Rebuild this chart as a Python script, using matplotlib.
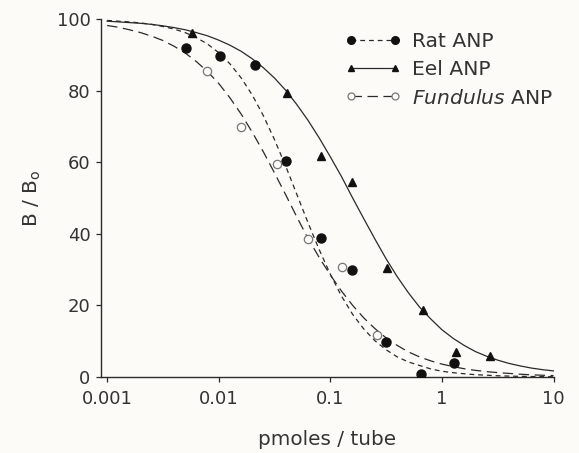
import numpy as np
import matplotlib
matplotlib.use("Agg")
import matplotlib.pyplot as plt
from matplotlib.lines import Line2D

plt.rcParams['font.family'] = ['DejaVu Sans']
plt.rcParams['mathtext.fontset'] = 'custom'
plt.rcParams['mathtext.rm'] = 'DejaVu Sans'
plt.rcParams['mathtext.it'] = 'DejaVu Sans:italic'
plt.rcParams['lines.scale_dashes'] = False

# ---- data ----
rat_x = [0.0051, 0.0103, 0.021, 0.040, 0.083, 0.157, 0.318, 0.65, 1.29]
rat_y = [92, 89.7, 87.2, 60.3, 38.7, 29.9, 9.9, 0.7, 3.9]

eel_x = [0.0058, 0.041, 0.083, 0.157, 0.325, 0.67, 1.35, 2.67]
eel_y = [96.1, 79.4, 61.7, 54.5, 30.4, 18.7, 7.1, 5.8]

fun_x = [0.0079, 0.0159, 0.033, 0.0635, 0.128, 0.264]
fun_y = [85.5, 69.9, 59.6, 38.5, 30.6, 11.8]

# fitted curves, read every 0.1 decade from 0.001 to 10
curve_x = np.logspace(-3, 1, 41)
rat_curve = [99.6, 99.4, 99.2, 98.9, 98.5, 97.9, 97.2, 96.2, 94.8, 93.0,
             90.6, 87.5, 83.6, 78.8, 73.0, 66.3, 58.9, 51.0, 43.1, 35.6,
             28.7, 22.6, 17.5, 13.4, 10.1, 7.6, 5.6, 4.2, 3.2, 2.25,
             1.6, 1.2, 0.9, 0.64, 0.5, 0.34, 0.25, 0.18, 0.13, 0.1, 0.07]
eel_curve = [99.4, 99.2, 99.0, 98.8, 98.5, 98.1, 97.6, 97.0, 96.2, 95.3,
             94.1, 92.7, 91.0, 88.9, 86.4, 83.5, 80.1, 76.1, 71.7, 66.8,
             61.5, 56.0, 50.0, 44.2, 38.5, 33.0, 28.0, 23.5, 19.5, 16.2,
             13.2, 10.8, 8.8, 7.1, 5.8, 4.7, 3.8, 3.1, 2.5, 2.05, 1.7]
fun_curve = [98.2, 97.7, 97.0, 96.2, 95.2, 94.0, 92.4, 90.5, 88.1, 85.3,
             82.0, 78.0, 73.5, 68.4, 62.9, 57.0, 50.9, 44.7, 38.7, 33.4,
             28.5, 24.0, 20.0, 16.5, 13.5, 10.9, 8.8, 7.0, 5.6, 4.5,
             3.6, 2.9, 2.3, 1.85, 1.5, 1.22, 1.0, 0.78, 0.6, 0.49, 0.4]

xticks = [0.001, 0.01, 0.1, 1, 10]
xticklabels = ["0.001", "0.01", "0.1", "1", "10"]
yticks = [0, 20, 40, 60, 80, 100]

labels = ["Rat ANP", "Eel ANP", r"$\it{Fundulus}$ ANP"]

# ---- style ----
bg = '#fdfbf8'
ink = '#2a2a2a'
txt = '#333333'
lw = 0.9
short_dash = (0, (3.5, 2.8))
long_dash = (0, (7.5, 4.0))

fig = plt.figure(figsize=(5.79, 4.53), dpi=100, facecolor=bg)
ax = fig.add_axes([0.1744, 0.1678, 0.957 - 0.1744, 0.958 - 0.1678])
ax.set_facecolor(bg)

ax.plot(curve_x, rat_curve, color=ink, lw=lw, linestyle=short_dash)
ax.plot(curve_x, eel_curve, color=ink, lw=lw, linestyle='-')
ax.plot(curve_x, fun_curve, color=ink, lw=lw, linestyle=long_dash)

ax.plot(rat_x, rat_y, 'o', color='#111111', ms=6.5, zorder=5)
ax.plot(eel_x, eel_y, '^', color='#111111', ms=5.5, zorder=5)
ax.plot(fun_x, fun_y, 'o', mfc=bg, mec='#777777', mew=0.9, ms=6.0, zorder=5)

ax.set_xscale('log')
ax.set_xlim(10 ** -3.055, 10 ** 1.005)
ax.set_ylim(0, 100)
ax.set_xticks(xticks)
ax.set_xticklabels(xticklabels)
ax.minorticks_off()
ax.set_yticks(yticks)

for s in ['top', 'right']:
    ax.spines[s].set_visible(False)
for s in ['left', 'bottom']:
    ax.spines[s].set_color(ink)
    ax.spines[s].set_linewidth(1.0)

ax.tick_params(axis='both', direction='out', length=3.5, width=0.9,
               color=ink, labelcolor=txt, labelsize=13)
ax.tick_params(axis='x', pad=6)
ax.tick_params(axis='y', pad=4)

ax.set_xlabel("pmoles / tube", fontsize=14.4, color=txt, labelpad=16)
ax.set_ylabel(r"B / B$_{\mathrm{o}}$", fontsize=14.5, color=txt, labelpad=10)

handles = [
    Line2D([], [], color=ink, lw=lw, linestyle=short_dash, marker='o',
           ms=5.5, mfc='#111111', mec='#111111'),
    Line2D([], [], color=ink, lw=lw, linestyle='-', marker='^',
           ms=4.5, mfc='#111111', mec='#111111'),
    Line2D([], [], color=ink, lw=lw, linestyle=long_dash, marker='o',
           ms=5.0, mfc=bg, mec='#777777', mew=0.9),
]
leg = ax.legend(handles, labels, loc='upper left', bbox_to_anchor=(0.538, 0.964),
                frameon=False, numpoints=2, handlelength=2.8, handletextpad=0.5,
                labelspacing=0.46, borderpad=0, borderaxespad=0, fontsize=14.6)
for t in leg.get_texts():
    t.set_color(txt)

fig.savefig("out.png", dpi=100, facecolor=bg)
